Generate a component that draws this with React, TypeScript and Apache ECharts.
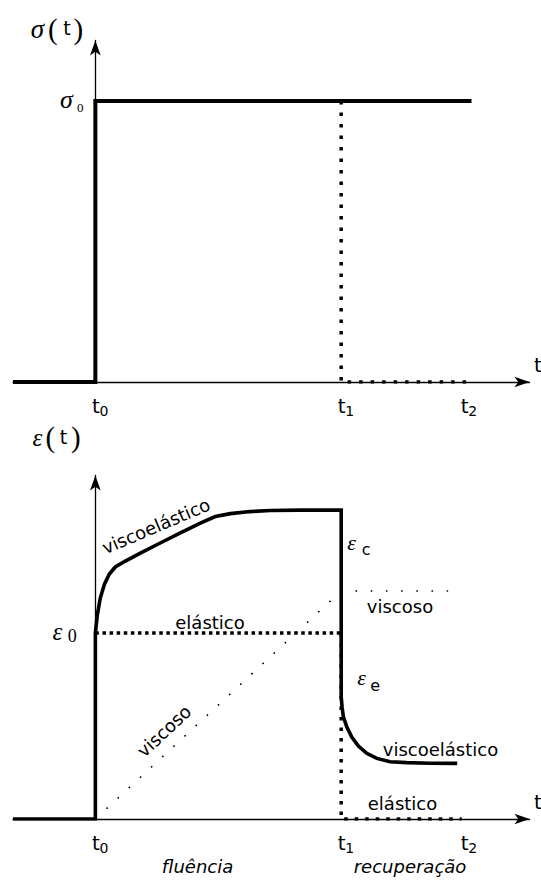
import React, { useEffect, useRef } from "react";
import * as echarts from "echarts";

// ---- time marks -------------------------------------------------------
const T0 = 0; // load applied
const T1 = 10; // load removed
const T2 = 15;
const tickTimes = [T0, T1, T2];
const tickSubs = ["0", "1", "2"];

// x range shared by both panels
const X_MIN = -3.35;
const X_MAX = 17.66;

// ---- stress history σ(t) (σ0 = 1) --------------------------------------
const stressApplied = [
  [-3.35, 0],
  [0, 0],
  [0, 1],
  [15.3, 1],
];
const stressRemoved = [
  [10, 1],
  [10, 0],
  [15.3, 0],
];

// ---- strain response ε(t) (ε0 = 1) -------------------------------------
const viscoelasticStrain = [
  [-3.35, 0],
  [0, 0],
  [0, 1.0],
  [0.08, 1.097],
  [0.2, 1.188],
  [0.37, 1.263],
  [0.57, 1.317],
  [0.81, 1.355],
  [1.22, 1.387],
  [1.83, 1.43],
  [2.64, 1.484],
  [3.46, 1.538],
  [4.27, 1.591],
  [4.88, 1.626],
  [5.49, 1.642],
  [6.3, 1.653],
  [7.11, 1.659],
  [8.33, 1.661],
  [10, 1.661],
  [10, 0.656],
  [10.04, 0.597],
  [10.09, 0.548],
  [10.23, 0.495],
  [10.43, 0.441],
  [10.7, 0.392],
  [11.04, 0.353],
  [11.45, 0.326],
  [11.99, 0.308],
  [12.67, 0.303],
  [13.62, 0.3],
  [14.72, 0.299],
];
const elasticLoaded = [
  [0, 1],
  [10, 1],
];
const elasticUnloaded = [
  [10, 1],
  [10, 0],
  [14.9, 0],
];
const viscousStrain = [
  [0, 0],
  [10, 1.226],
  [14.35, 1.226],
];

const Y_MAX_STRESS = 1.215;
const Y_MAX_STRAIN = 1.847;

const SANS = "DejaVu Sans";
const SERIF = "Liberation Serif";

function axisStyle(gridIndex: number, extra: any) {
  return {
    gridIndex,
    type: "value",
    axisLine: {
      show: true,
      onZero: true,
      symbol: ["none", "arrow"],
      symbolSize: [8, 15],
      lineStyle: { color: "#000", width: 1.3 },
    },
    axisTick: { show: false },
    axisLabel: { show: false },
    splitLine: { show: false },
    ...extra,
  };
}

function lineSeries(g: number, data: number[][], lineStyle: any, z = 3) {
  return {
    type: "line",
    xAxisIndex: g,
    yAxisIndex: g,
    data,
    symbol: "none",
    silent: true,
    z,
    lineStyle: { color: "#000", cap: "butt", join: "miter", ...lineStyle },
  };
}

function txt(
  text: string,
  x: number,
  y: number,
  size: number,
  family: string,
  opts: { italic?: boolean; rotation?: number; fill?: string } = {}
) {
  return {
    type: "text",
    x,
    y,
    rotation: opts.rotation || 0,
    silent: true,
    z: 10,
    style: {
      text,
      x: 0,
      y: 0,
      fill: opts.fill || "#000",
      fontSize: size,
      fontFamily: family,
      fontStyle: opts.italic ? "italic" : "normal",
      align: "center",
      verticalAlign: "middle",
    },
  };
}

export default function App() {
  const ref = useRef<HTMLDivElement>(null);

  useEffect(() => {
    if (!ref.current) return;
    const chart = echarts.init(ref.current, null, { renderer: "svg" });

    const option: any = {
      animation: false,
      backgroundColor: "#fff",
      grid: [
        { left: 13, right: 11.5, top: 40.5, height: 341.5 },
        { left: 13, right: 11.5, top: 475.5, height: 343.5 },
      ],
      xAxis: [
        axisStyle(0, { min: X_MIN, max: X_MAX }),
        axisStyle(1, { min: X_MIN, max: X_MAX }),
      ],
      yAxis: [
        axisStyle(0, { min: 0, max: Y_MAX_STRESS }),
        axisStyle(1, { min: 0, max: Y_MAX_STRAIN }),
      ],
      series: [
        lineSeries(0, stressRemoved, { width: 3.5, type: [3.5, 8] }, 2),
        lineSeries(0, stressApplied, { width: 4 }),
        lineSeries(1, viscousStrain, { width: 1.6, type: [1.6, 13.6] }, 2),
        lineSeries(1, elasticLoaded, { width: 3.5, type: [3.5, 3.6] }, 2),
        lineSeries(1, elasticUnloaded, { width: 3.5, type: [3.5, 7] }, 2),
        lineSeries(1, viscoelasticStrain, { width: 3.6 }),
      ],
    };
    chart.setOption(option);

    const px = (g: number, x: number, y: number) =>
      chart.convertToPixel({ gridIndex: g }, [x, y]) as number[];

    const g: any[] = [];

    // time ticks and axis names on both panels
    [0, 1].forEach((gi) => {
      tickTimes.forEach((t, i) => {
        const [tx, ay] = px(gi, t, 0);
        g.push(txt("t", tx + 0.5, ay + 24, 20, SANS));
        g.push(txt(tickSubs[i], tx + 8.5, ay + 29, 14, SANS));
      });
      const [, ay] = px(gi, 0, 0);
      g.push(txt("t", 538, ay - 17, 20, SANS));
    });

    // σ(t) title and σ0 level
    const [sx, sTop] = px(0, 0, Y_MAX_STRESS);
    g.push(txt("σ", sx - 58, sTop - 11.5, 27, SERIF, { italic: true }));
    g.push(txt("(", sx - 42.5, sTop - 12, 29, SERIF));
    g.push(txt("t", sx - 28.5, sTop - 13, 19, SANS));
    g.push(txt(")", sx - 17, sTop - 12, 29, SERIF));
    const [, s0] = px(0, 0, 1);
    g.push(txt("σ", sx - 29, s0 - 1, 26, SERIF, { italic: true }));
    g.push(txt("0", sx - 15, s0 + 6.5, 13, SERIF));

    // ε(t) title and ε0 level
    const [ex, eTop] = px(1, 0, Y_MAX_STRAIN);
    g.push(txt("ε", ex - 58, eTop - 38, 25, SERIF, { italic: true }));
    g.push(txt("(", ex - 45, eTop - 39, 29, SERIF));
    g.push(txt("t", ex - 32, eTop - 39, 19, SANS));
    g.push(txt(")", ex - 19.5, eTop - 39, 29, SERIF));
    const [, e0] = px(1, 0, 1);
    g.push(txt("ε", ex - 38, e0 - 2, 25, SERIF, { italic: true }));
    g.push(txt("0", ex - 23, e0 + 3, 18, SERIF));

    // creep branch labels
    const [, ec] = px(1, T1, 1.661);
    const [t1x] = px(1, T1, 0);
    g.push(txt("ε", t1x + 10.5, ec + 32, 22, SERIF, { italic: true }));
    g.push(txt("c", t1x + 25, ec + 39.5, 16, SANS));
    const [, ee] = px(1, T1, 0.656);
    g.push(txt("ε", t1x + 20.5, ee - 19.5, 22, SERIF, { italic: true }));
    g.push(txt("e", t1x + 34, ee - 11, 16, SANS));

    g.push(
      txt("viscoelástico", 156, 526, 18, SANS, { rotation: (23 * Math.PI) / 180 })
    );
    g.push(txt("elástico", 210, e0 - 11, 18, SANS));
    g.push(txt("viscoso", 164, 731, 18, SANS, { rotation: (43 * Math.PI) / 180 }));

    // recovery branch labels
    const [, ev] = px(1, T1, 1.226);
    g.push(txt("viscoso", 400, ev + 16, 18, SANS));
    g.push(txt("viscoelástico", 440.5, 749, 18, SANS));
    const [, ay1] = px(1, 0, 0);
    g.push(txt("elástico", 402.5, ay1 - 16, 18, SANS));

    // phase names
    g.push(txt("fluência", 197.5, ay1 + 47, 18, SANS, { italic: true }));
    g.push(txt("recuperação", 410, ay1 + 47, 18, SANS, { italic: true }));

    chart.setOption({ graphic: { elements: g } });

    return () => chart.dispose();
  }, []);

  return (
    <div
      ref={ref}
      style={{
        position: "fixed",
        left: 0,
        top: 0,
        width: 541,
        height: 880,
        background: "#fff",
      }}
    />
  );
}
